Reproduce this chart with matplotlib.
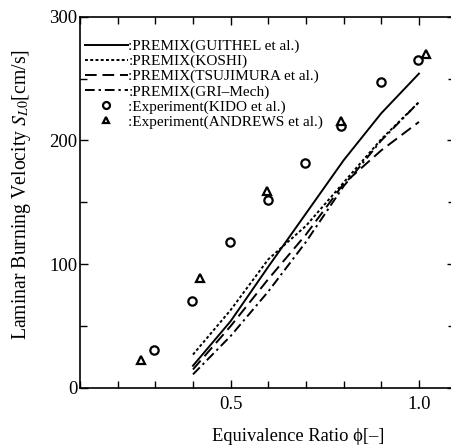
import matplotlib
matplotlib.use("Agg")
import matplotlib.pyplot as plt
from matplotlib.lines import Line2D
from matplotlib.ticker import MultipleLocator

plt.rcParams['font.family'] = ['Liberation Serif', 'DejaVu Serif']
plt.rcParams['mathtext.fontset'] = 'stix'

# Model curves (equivalence ratio vs burning velocity, cm/s)
phi_model = [0.4, 0.5, 0.6, 0.7, 0.8, 0.9, 1.0]
guithel = [18, 54, 98, 141, 184, 222, 254]
koshi = [27, 63, 104, 131, 166, 201, 231]
tsujimura = [15, 50, 88, 124, 165, 192, 215]
grimech = [11, 42, 78, 118, 163, 200, 231]

# Experiments
phi_kido = [0.297, 0.397, 0.498, 0.600, 0.697, 0.793, 0.898, 0.997]
s_kido = [31, 70, 118, 152, 182, 212, 247, 265]
phi_andrews = [0.262, 0.419, 0.596, 0.793, 1.019]
s_andrews = [23, 89, 159, 216, 270]

labels = [":PREMIX(GUITHEL et al.)", ":PREMIX(KOSHI)",
          ":PREMIX(TSUJIMURA et al.)", ":PREMIX(GRI\u2013Mech)",
          ":Experiment(KIDO et al.)", ":Experiment(ANDREWS et al.)"]

fig = plt.figure(figsize=(4.52, 4.46), dpi=100)
ax = fig.add_axes([80/452, 1-388/446, 375/452, (388-16.7)/446])

lw = 1.4
ax.plot(phi_model, guithel, color='black', lw=lw, ls='-')
ax.plot(phi_model, koshi, color='black', lw=lw, ls=(0, (1.5, 1.2)))
ax.plot(phi_model, tsujimura, color='black', lw=lw, ls=(0, (6, 3)))
ax.plot(phi_model, grimech, color='black', lw=lw, ls=(0, (5, 2, 1.2, 2)))
ax.plot(phi_kido, s_kido, ls='none', marker='o', ms=6, mfc='white',
        mec='black', mew=1.6)
ax.plot(phi_andrews, s_andrews, ls='none', marker='^', ms=6, mfc='white',
        mec='black', mew=1.6)

ax.set_xlim(0.1, 0.1 + 375/376.6)
ax.set_ylim(0, 300)
ax.xaxis.set_major_locator(MultipleLocator(0.5))
ax.xaxis.set_minor_locator(MultipleLocator(0.1))
ax.yaxis.set_major_locator(MultipleLocator(100))
ax.yaxis.set_minor_locator(MultipleLocator(50))
ax.set_xticks([0.5, 1.0])
ax.set_xticklabels(['0.5', '1.0'])
ax.tick_params(which='both', direction='in', top=True, right=True,
               labelsize=13.5, width=1.0)
ax.tick_params(axis='x', pad=6)
ax.tick_params(axis='y', pad=2)
ax.tick_params(which='major', length=6)
ax.tick_params(which='minor', length=5)
for s in ax.spines.values():
    s.set_linewidth(1.2)

ax.set_xlabel('Equivalence Ratio \u03d5[\u2013]', fontsize=13.3)
ax.xaxis.set_label_coords((298-80)/375, -0.108)
ax.set_ylabel('Laminar Burning Velocity $S_{L0}$[cm/s]', fontsize=14.2)
ax.yaxis.set_label_coords(-0.125, 0.52)

handles = [
    Line2D([], [], color='black', lw=lw, ls='-'),
    Line2D([], [], color='black', lw=lw, ls=(0, (1.5, 1.2))),
    Line2D([], [], color='black', lw=lw, ls=(0, (6, 3))),
    Line2D([], [], color='black', lw=lw, ls=(0, (5, 2, 1.2, 2))),
    Line2D([], [], ls='none', marker='o', ms=5, mfc='white', mec='black', mew=1.6),
    Line2D([], [], ls='none', marker='^', ms=5, mfc='white', mec='black', mew=1.6),
]
leg = ax.legend(handles, labels, loc='upper left', bbox_to_anchor=(0.005, 0.947),
                frameon=False, fontsize=11, handlelength=2.8, handletextpad=0.05,
                labelspacing=0.08, borderaxespad=0.0, borderpad=0.2)

fig.savefig('out.png', dpi=100)
